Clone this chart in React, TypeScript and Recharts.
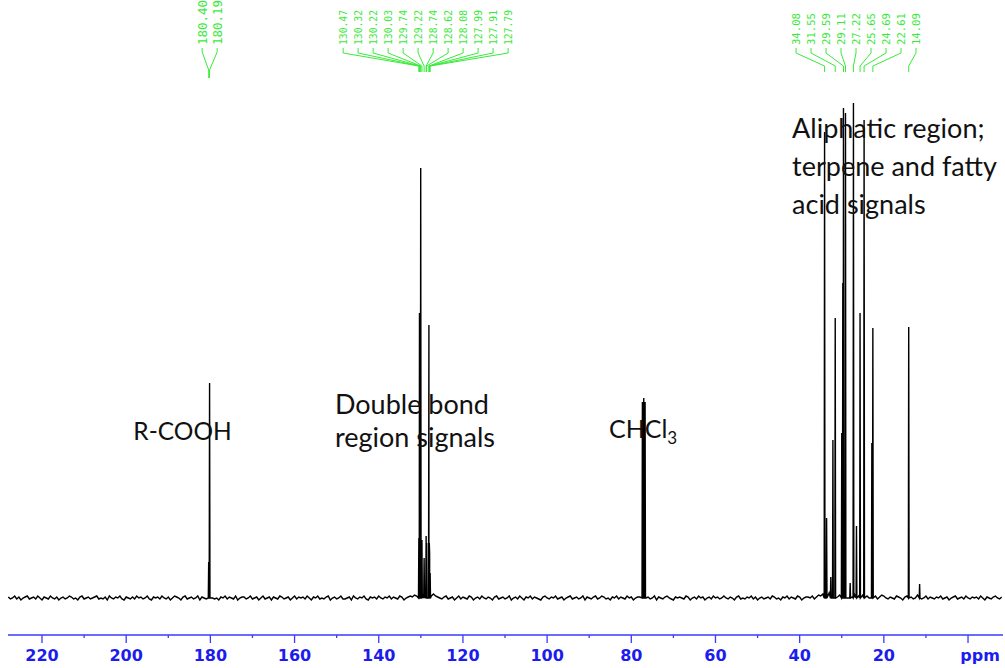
import { LineChart, Line, XAxis, YAxis, ReferenceDot } from 'recharts';

// 13C NMR shifts (ppm) and peak heights (a.u.)
const peakShifts = [
	180.4, 180.19, 130.47, 130.32, 130.22, 130.03, 129.74, 129.22, 128.74, 128.62, 128.08, 127.99,
	127.91, 127.79, 77.36, 77.04, 76.72, 34.08, 33.6, 32.6, 32.1, 31.55, 30.0, 29.75, 29.59, 29.11,
	28.0, 27.22, 26.5, 25.65, 24.69, 22.85, 22.61, 14.09, 11.5,
];
const peakHeights = [
	36, 215, 60, 285, 50, 430, 58, 40, 62, 55, 273, 55, 45, 25, 196, 200, 196, 466, 80, 21, 158, 280,
	165, 315, 490, 485, 15, 495, 72, 285, 478, 155, 270, 271, 14,
];

// shift labels printed above the spectrum
const acidLabels = [180.4, 180.19];
const alkeneLabels = [
	130.47, 130.32, 130.22, 130.03, 129.74, 129.22, 128.74, 128.62, 128.08, 127.99, 127.91, 127.79,
];
const alkylLabels = [34.08, 31.55, 29.59, 29.11, 27.22, 25.65, 24.69, 22.61, 14.09];

// baseline noise, one value every 0.5 ppm from 228 ppm down
const noiseStart = 228;
const noiseStep = 0.5;
const baselineNoise = [
	1, -1, 0, 2, -1, 1, -2, 0, 1, 2, -1, 0, 1, -1, 2, 0, -2, 1, 0, -1,
	2, 0, -1, 1, -2, 0, 1, -1, 0, 2, 1, -1, 0, -2, 1, 2, -1, 0, 1, -1,
	0, 1, 2, -1, 0, -1, 1, -2, 2, 0, -1, 1, 0, 2, -1, -2, 1, 0, -1, 1,
	-1, 2, 0, 1, -1, 0, 2, -1, -2, 1, 0, 1, -1, 2, 0, -1, 1, -2, 0, 2,
	1, 0, -2, 1, 2, -1, 0, 1, -1, 0, 2, -2, 1, 0, -1, 1, 2, 0, -1, 0,
	-2, 1, 0, 2, -1, 1, 0, -1, 2, -2, 0, 1, 1, -1, 0, 2, -1, 0, 1, -2,
	0, 2, -1, 0, 1, -2, 1, 0, -1, 2, 1, -1, 0, 1, -2, 0, 2, -1, 1, 0,
	1, -1, 2, 0, -2, 1, 0, 2, -1, 0, -1, 1, 2, -2, 0, 1, -1, 0, 2, -1,
	-1, 0, 1, -2, 2, 0, -1, 1, 0, 2, -1, -2, 1, 0, 1, -1, 2, 0, -1, 1,
	0, 2, -1, 1, 0, -1, 2, 1, -2, 0, 1, 2, 1, 3, 2, 3, 4, 2, 3, 3,
	3, 2, 4, 2, 1, 0, -1, 1, 2, -1, 0, 1, -2, 0, 2, -1, 1, 0, -1, 2,
	1, -2, 0, 1, -1, 2, 0, -1, 1, 0, -2, 1, 2, -1, 0, 1, -1, 0, 2, -2,
	0, 1, -1, 2, 0, -2, 1, 0, 2, -1, 1, 0, -1, -2, 1, 2, 0, -1, 1, 0,
	2, -1, 0, 1, -2, 0, 1, 2, -1, 0, 1, -1, 0, 2, -2, 1, 0, -1, 1, 2,
	-1, 0, 2, 1, -1, 0, -2, 1, 0, 2, -1, 1, 0, -1, 2, 0, 1, -2, 0, 1,
	1, 2, -1, 0, 1, -1, 0, 2, -2, 1, 0, -1, 1, 2, 0, -1, -2, 1, 0, 1,
	0, -1, 2, 1, -2, 0, 1, -1, 2, 0, 1, -2, 0, 1, -1, 2, 0, 1, -1, 0,
	2, 0, -1, 1, 0, -2, 1, 2, -1, 0, -1, 1, 0, 2, -1, 1, -2, 0, 1, -1,
	0, 1, -1, 2, 1, -1, 0, -2, 1, 0, 2, -1, 1, 0, -1, 2, 1, -2, 0, 1,
	1, 0, 2, -1, 1, 3, 2, 4, 3, 1, 5, 2, 3, 4, 1, 3, 2, 4, -2, 0,
	3, 1, 4, -3, 2, 1, 3, -2, 2, 0, 1, 3, 2, -1, 1, 3, 2, 0, -1, 1,
	0, -1, 2, 1, 0, -2, 1, 2, 3, 1, -1, 0, 3, 1, -1, 0, 2, -1, 1, 0,
	-1, 1, 0, 2, -1, 0, 1, -2, 0, 1, 2, -1, 0, 1, -1, 2, 0, -1, 1, 0,
	1, -1, 2, 0, -2, 1, 0, -1, 1, 2, 0, -1, 1,
];

const tickValues = [220, 210, 200, 190, 180, 170, 160, 150, 140, 130, 120, 110, 100, 90, 80, 70, 60, 50, 40, 30, 20, 10, 0];

const notes = [
	{ ppm: 198.3, v: 158, size: 24.5, lines: ['R-COOH'], gap: 0, sub: '' },
	{ ppm: 150.4, v: 184, size: 27, lines: ['Double bond', 'region signals'], gap: 33, sub: '' },
	{ ppm: 85.3, v: 160, size: 25, lines: ['CHCl'], gap: 0, sub: '3' },
	{ ppm: 41.8, v: 460, size: 27, lines: ['Aliphatic region;', 'terpene and fatty', 'acid  signals'], gap: 38, sub: '' },
];

const GREEN = '#3aea3a';
const BLUE = '#1c1cee';

// label columns: first column position (ppm) and spacing between columns
const labelGroups = [
	{ shifts: acidLabels, first: 181.95, size: 12.5, levels: [550, 546, 528, 520] },
	{ shifts: alkeneLabels, first: 148.46, size: 9.7, levels: [550, 545, 532, 526] },
	{ shifts: alkylLabels, first: 40.86, size: 10.6, levels: [550, 545, 532, 526] },
];
const labelStep = 3.563;

const spectrum = (() => {
	const pts: { ppm: number; v: number }[] = [];
	baselineNoise.forEach((n, i) => {
		const ppm = noiseStart - i * noiseStep;
		if (peakShifts.some((p) => Math.abs(p - ppm) < 0.2)) return;
		pts.push({ ppm, v: n });
	});
	peakShifts.forEach((p, i) => {
		pts.push({ ppm: p + 0.09, v: 0 }, { ppm: p, v: peakHeights[i] }, { ppm: p - 0.09, v: 0 });
	});
	return pts.sort((a, b) => b.ppm - a.ppm);
})();

const PpmTick = (props: any) => {
	const { x, y, payload } = props;
	const major = payload.value % 20 === 0;
	return (
		<g>
			<line x1={x} x2={x} y1={y} y2={y + (major ? 8 : 3)} stroke="#3a3aff" strokeWidth={1.3} />
			{major && (
				<text
					x={payload.value === 0 ? x + 12 : x}
					y={y + 26}
					textAnchor="middle"
					fill={BLUE}
					fontFamily="'DejaVu Sans', sans-serif"
					fontWeight="bold"
					fontSize={16}
				>
					{payload.value === 0 ? 'ppm' : payload.value}
				</text>
			)}
		</g>
	);
};

const ShiftText = ({ cx, cy, label, size }: any) => (
	<text
		x={cx}
		y={cy}
		transform={`rotate(-90 ${cx} ${cy})`}
		fill={GREEN}
		fontFamily="'DejaVu Sans Mono', monospace"
		fontSize={size}
		dominantBaseline="central"
	>
		{label}
	</text>
);

const NoteText = ({ cx, cy, lines, gap, sub, size }: any) => (
	<text x={cx} y={cy} fontFamily="Lato, sans-serif" fontSize={size} fill="#111">
		{lines.map((t: string, i: number) => (
			<tspan key={i} x={cx} dy={i === 0 ? 0 : gap}>
				{t}
			</tspan>
		))}
		{sub && (
			<tspan fontSize={17} dy={6}>
				{sub}
			</tspan>
		)}
	</text>
);

export default function App() {
	return (
		<div style={{ position: 'absolute', left: 0, top: 0 }}>
			<LineChart width={1005} height={668} margin={{ top: 0, right: 2, bottom: 0, left: 8 }}>
				<XAxis
					dataKey="ppm"
					type="number"
					domain={[-8.31, 228.08]}
					reversed
					allowDataOverflow
					ticks={tickValues}
					interval={0}
					tick={<PpmTick />}
					tickLine={false}
					tickSize={0}
					tickMargin={0}
					height={33}
					axisLine={{ stroke: '#3a3aff', strokeWidth: 1.3 }}
				/>
				<YAxis hide type="number" domain={[-37, 598]} allowDataOverflow />
				<Line
					data={spectrum}
					dataKey="v"
					type="linear"
					stroke="#000"
					strokeWidth={1.4}
					dot={false}
					isAnimationActive={false}
				/>
				{labelGroups.flatMap((g, gi) =>
					g.shifts.map((s, i) => {
						const lx = g.first - i * labelStep;
						const [a, b, c, d] = g.levels;
						return (
							<Line
								key={`c${gi}-${i}`}
								data={[
									{ ppm: lx, v: a },
									{ ppm: lx, v: b },
									{ ppm: s, v: c },
									{ ppm: s, v: d },
								]}
								dataKey="v"
								type="linear"
								stroke={GREEN}
								strokeWidth={1}
								dot={false}
								isAnimationActive={false}
							/>
						);
					}),
				)}
				{labelGroups.flatMap((g, gi) =>
					g.shifts.map((s, i) => (
						<ReferenceDot
							key={`t${gi}-${i}`}
							x={g.first - i * labelStep}
							y={553}
							r={0}
							ifOverflow="visible"
							shape={(p: any) => <ShiftText cx={p.cx} cy={p.cy} label={s.toFixed(2)} size={g.size} />}
						/>
					)),
				)}
				{notes.map((n, i) => (
					<ReferenceDot
						key={`n${i}`}
						x={n.ppm}
						y={n.v}
						r={0}
						ifOverflow="visible"
						shape={(p: any) => (
							<NoteText cx={p.cx} cy={p.cy} lines={n.lines} gap={n.gap} sub={n.sub} size={n.size} />
						)}
					/>
				))}
			</LineChart>
		</div>
	);
}
